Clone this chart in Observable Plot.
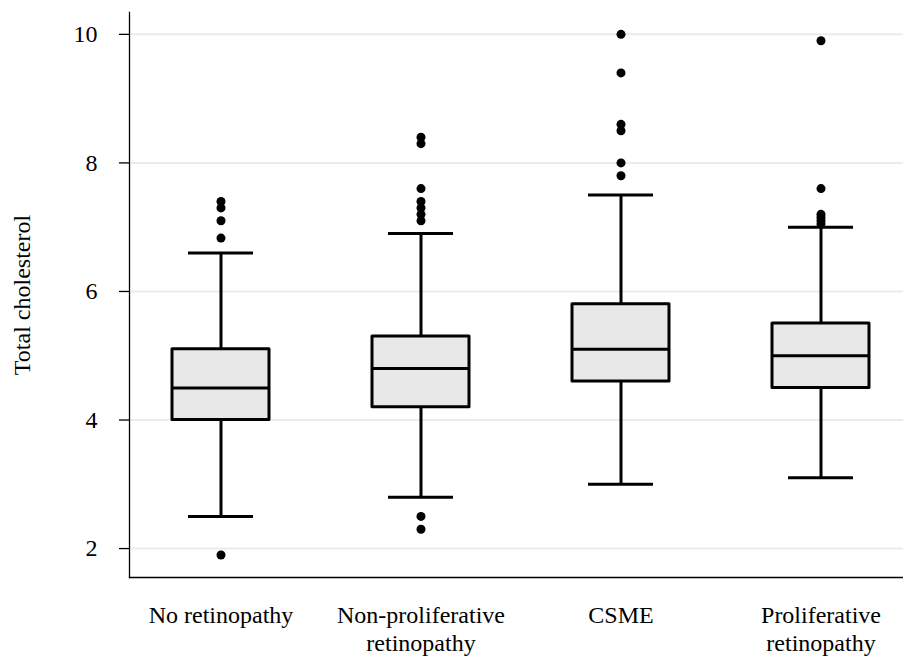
<!DOCTYPE html>
<html>
<head>
<meta charset="utf-8">
<script src="https://cdn.jsdelivr.net/npm/d3@7"></script>
<script src="https://cdn.jsdelivr.net/npm/@observablehq/plot@0.6"></script>
<style>
  html, body { margin: 0; padding: 0; background: #fff; }
  #chart svg { display: block; }
</style>
</head>
<body>
<div id="chart"></div>
<script>
// Categories (x tick labels, with line breaks)
const categories = ["No retinopathy", "Non-proliferative\nretinopathy", "CSME", "Proliferative\nretinopathy"];
// Box statistics per category
const whiskerLow  = [2.5, 2.8, 3.0, 3.1];
const q1          = [4.0, 4.2, 4.6, 4.5];
const median      = [4.5, 4.8, 5.1, 5.0];
const q3          = [5.1, 5.3, 5.8, 5.5];
const whiskerHigh = [6.6, 6.9, 7.5, 7.0];
// Outliers per category
const outliers = [
  [7.4, 7.3, 7.1, 6.83, 1.9],
  [8.4, 8.3, 7.6, 7.4, 7.3, 7.2, 7.1, 2.5, 2.3],
  [10.0, 9.4, 8.6, 8.5, 8.0, 7.8],
  [9.9, 7.6, 7.2, 7.15, 7.1, 7.05]
];
const yTicks = [2, 4, 6, 8, 10];
const yDomain = [1.55, 10.34];
const yTitle = "Total cholesterol";

const stats = categories.map((c, i) => ({
  cat: c, lo: whiskerLow[i], q1: q1[i], med: median[i], q3: q3[i], hi: whiskerHigh[i]
}));
const outs = categories.flatMap((c, i) => outliers[i].map(v => ({cat: c, v})));

const font = "'Liberation Serif', 'Times New Roman', serif";
const fs = 24;

const chart = Plot.plot({
  width: 903,
  height: 661,
  marginLeft: 129,
  marginRight: 0,
  marginTop: 12,
  marginBottom: 84,
  style: {fontFamily: font, fontSize: fs + "px", color: "black", background: "white"},
  x: {domain: categories, paddingInner: 0.515, paddingOuter: 0.1925, align: 0.552, axis: null},
  y: {domain: yDomain},
  marks: [
    Plot.gridY(yTicks, {stroke: "#ebebeb", strokeOpacity: 1, strokeWidth: 2}),
    Plot.axisY(yTicks, {tickSize: 10, tickPadding: 22, tickFormat: d => String(d), fontSize: fs, label: null, stroke: "black", strokeWidth: 1.3, fill: "black"}),
    Plot.text([yTitle], {frameAnchor: "left", textAnchor: "middle", lineAnchor: "middle", rotate: -90, dx: -107, text: d => d, fontSize: fs, fill: "black"}),
    Plot.text(categories, {x: d => d, text: d => d, frameAnchor: "bottom", dy: 26, lineAnchor: "top", lineHeight: 1.15, fontSize: fs, fill: "black"}),
    Plot.frame({anchor: "left", stroke: "black", strokeWidth: 1.3}),
    Plot.frame({anchor: "bottom", stroke: "black", strokeWidth: 1.3}),
    Plot.ruleX(stats, {x: "cat", y1: "lo", y2: "hi", stroke: "black", strokeWidth: 3}),
    Plot.tickY(stats, {x: "cat", y: "lo", insetLeft: 16, insetRight: 16, stroke: "black", strokeWidth: 3}),
    Plot.tickY(stats, {x: "cat", y: "hi", insetLeft: 16, insetRight: 16, stroke: "black", strokeWidth: 3}),
    Plot.barY(stats, {x: "cat", y1: "q1", y2: "q3", fill: "#e8e8e8", stroke: "black", strokeWidth: 3, strokeLinejoin: "round"}),
    Plot.tickY(stats, {x: "cat", y: "med", stroke: "black", strokeWidth: 3}),
    Plot.dot(outs, {x: "cat", y: "v", r: 4.5, fill: "black", stroke: "none"})
  ]
});
document.getElementById("chart").appendChild(chart);
</script>
</body>
</html>
